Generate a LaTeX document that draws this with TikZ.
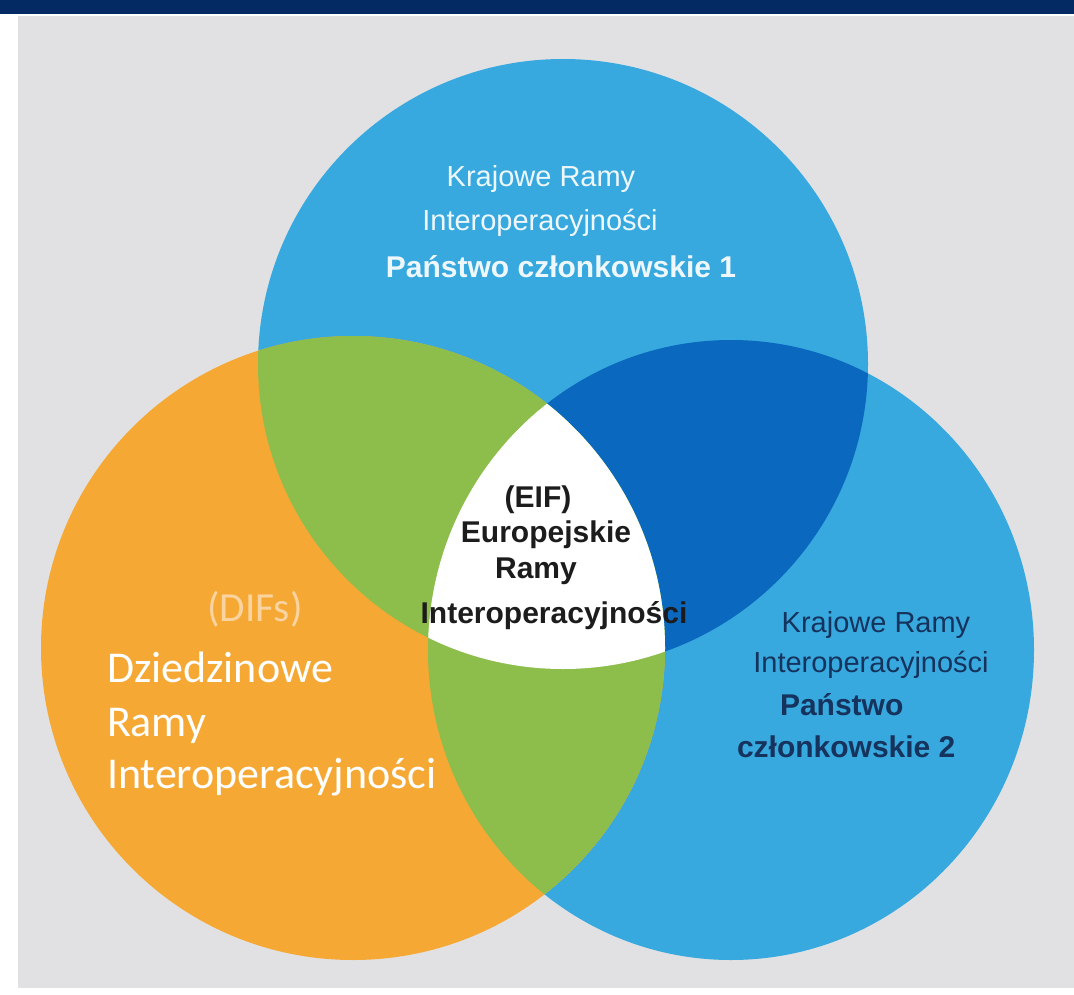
\documentclass[tikz,border=0pt]{standalone}
\usepackage{fontspec}
\setmainfont{Liberation Sans}
\newfontfamily\calib{Carlito}
\definecolor{navybar}{HTML}{042A63}
\definecolor{panel}{HTML}{E1E1E3}
\definecolor{cblue}{HTML}{37A9DF}
\definecolor{dblue}{HTML}{0A68BF}
\definecolor{corange}{HTML}{F5A834}
\definecolor{cgreen}{HTML}{8DBE4B}
\definecolor{toptext}{HTML}{EEF7FC}
\definecolor{righttext}{HTML}{15335C}
\definecolor{centertext}{HTML}{1C1C1C}
\definecolor{difs}{HTML}{FAD4A0}
\begin{document}
\begin{tikzpicture}[x=0.75pt,y=-0.75pt,
  every node/.style={inner sep=0pt,outer sep=0pt},
  arialreg/.style={font=\fontsize{21.75}{26}\selectfont},
  arialbold/.style={font=\fontsize{22.5}{27}\selectfont\bfseries},
  calibri/.style={font=\fontsize{33}{40}\calib}]
\useasboundingbox (0,0) rectangle (1074,995);
\fill[white] (0,0) rectangle (1074,995);
\fill[navybar] (0,0) rectangle (1074,14);
\fill[panel] (18,16) rectangle (1074,988);
% circles
\fill[cblue] (563,364) circle[radius=228.75pt];
\fill[cblue] (731,650) ellipse[x radius=227.25pt,y radius=232.5pt];
\fill[corange] (353,648) circle[radius=234pt];
% top & right
\begin{scope}
  \clip (563,364) circle[radius=228.75pt];
  \fill[dblue] (731,650) ellipse[x radius=227.25pt,y radius=232.5pt];
\end{scope}
% left & top, left & right
\begin{scope}
  \clip (353,648) circle[radius=234pt];
  \fill[cgreen] (563,364) circle[radius=228.75pt];
  \fill[cgreen] (731,650) ellipse[x radius=227.25pt,y radius=232.5pt];
\end{scope}
% all three
\begin{scope}
  \clip (353,648) circle[radius=234pt];
  \clip (731,650) ellipse[x radius=227.25pt,y radius=232.5pt];
  \fill[white] (563,364) circle[radius=228.75pt];
\end{scope}
% top circle text
\node[arialreg,text=toptext,anchor=base] (t1) at (541,186) {Krajowe Ramy};
\node[arialreg,text=toptext,anchor=base] (t2) at (540,230) {Interoperacyjności};
\node[arialbold,text=toptext,anchor=base] (t3) at (561,277) {Państwo członkowskie 1};
% centre text
\node[arialbold,text=centertext,anchor=base] (c1) at (538,507) {(EIF)};
\node[arialbold,text=centertext,anchor=base] (c2) at (546,542) {Europejskie};
\node[arialbold,text=centertext,anchor=base] (c3) at (536,578) {Ramy};
\node[arialbold,text=centertext,anchor=base] (c4) at (554,623) {Interoperacyjności};
% right circle text
\node[arialreg,text=righttext,anchor=base] (r1) at (876,632) {Krajowe Ramy};
\node[arialreg,text=righttext,anchor=base] (r2) at (871,672) {Interoperacyjności};
\node[arialbold,text=righttext,anchor=base west] (r3) at (780,715) {Państwo};
\node[arialbold,text=righttext,anchor=base west] (r4) at (737,757) {członkowskie 2};
% left circle text
\node[calibri,font=\fontsize{31}{38}\calib,text=difs,anchor=base] (l0) at (255,621) {(DIFs)};
\node[calibri,text=white,anchor=base west] (l1) at (107,682) {Dziedzinowe};
\node[calibri,text=white,anchor=base west] (l2) at (107,736) {Ramy};
\node[calibri,text=white,anchor=base west] (l3) at (107,788) {Interoperacyjności};
\end{tikzpicture}
\end{document}
